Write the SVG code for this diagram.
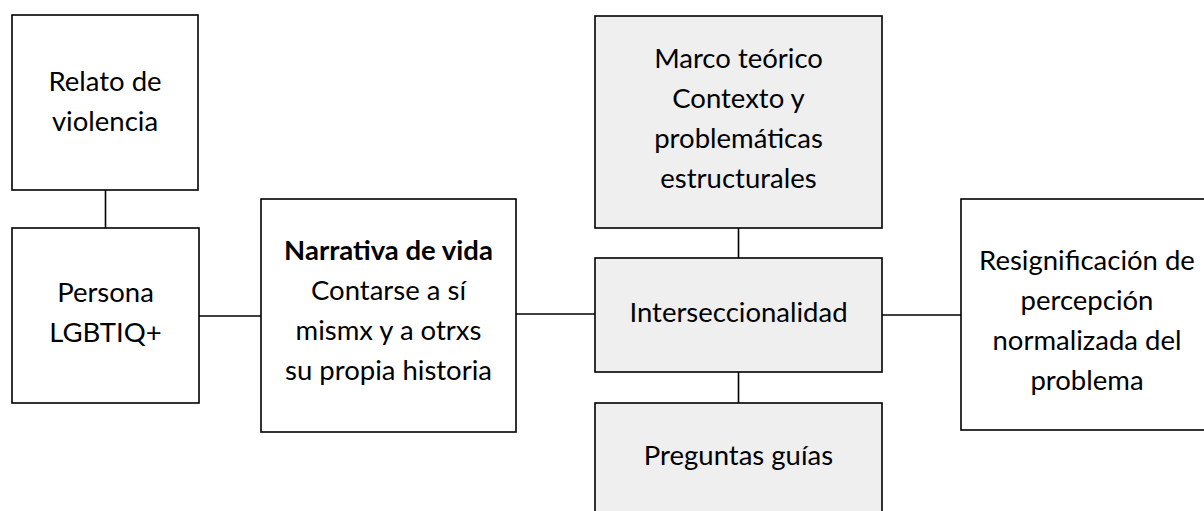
<svg xmlns="http://www.w3.org/2000/svg" width="1204" height="511" viewBox="0 0 1204 511">
<style>
.box{fill:#ffffff;stroke:#000;stroke-width:1.6}
.grey{fill:#efefef;stroke:#000;stroke-width:1.6}
.t{font-family:Lato,"Open Sans","Liberation Sans",sans-serif;font-size:27.5px;fill:#000;text-anchor:middle}
.b{font-weight:bold}
.c{stroke:#000;stroke-width:1.6;fill:none}
</style>
<rect width="1204" height="511" fill="#fff"/>
<g id="connectors">
<line class="c" x1="105.5" y1="190" x2="105.5" y2="228"/>
<line class="c" x1="199" y1="316" x2="261" y2="316"/>
<line class="c" x1="516" y1="314" x2="595" y2="314"/>
<line class="c" x1="738.5" y1="228" x2="738.5" y2="258"/>
<line class="c" x1="738.5" y1="372" x2="738.5" y2="403"/>
<line class="c" x1="882" y1="315" x2="961" y2="315"/>
</g>
<g id="relato">
<rect class="box" x="12" y="15" width="186" height="175"/>
<text class="t" x="105" y="91">Relato de</text>
<text class="t" x="105" y="131">violencia</text>
</g>
<g id="persona">
<rect class="box" x="12" y="228" width="187" height="175"/>
<text class="t" x="105.5" y="302">Persona</text>
<text class="t" x="105.5" y="342">LGBTIQ+</text>
</g>
<g id="narrativa">
<rect class="box" x="261" y="199" width="255" height="233"/>
<text class="t b" x="388.5" y="260">Narrativa de vida</text>
<text class="t" x="388.5" y="300">Contarse a sí</text>
<text class="t" x="388.5" y="340">mismx y a otrxs</text>
<text class="t" x="388.5" y="380">su propia historia</text>
</g>
<g id="marco">
<rect class="grey" x="595" y="16" width="287" height="212"/>
<text class="t" x="738.5" y="68">Marco teórico</text>
<text class="t" x="738.5" y="108">Contexto y</text>
<text class="t" x="738.5" y="148">problemáticas</text>
<text class="t" x="738.5" y="188">estructurales</text>
</g>
<g id="interseccionalidad">
<rect class="grey" x="595" y="258" width="287" height="114"/>
<text class="t" x="738.5" y="322">Interseccionalidad</text>
</g>
<g id="preguntas">
<rect class="grey" x="595" y="403" width="287" height="120"/>
<text class="t" x="738.5" y="465">Preguntas guías</text>
</g>
<g id="resignificacion">
<rect class="box" x="961" y="199" width="252" height="231"/>
<text class="t" x="1087" y="270">Resignificación de</text>
<text class="t" x="1087" y="310">percepción</text>
<text class="t" x="1087" y="350">normalizada del</text>
<text class="t" x="1087" y="390">problema</text>
</g>
</svg>
